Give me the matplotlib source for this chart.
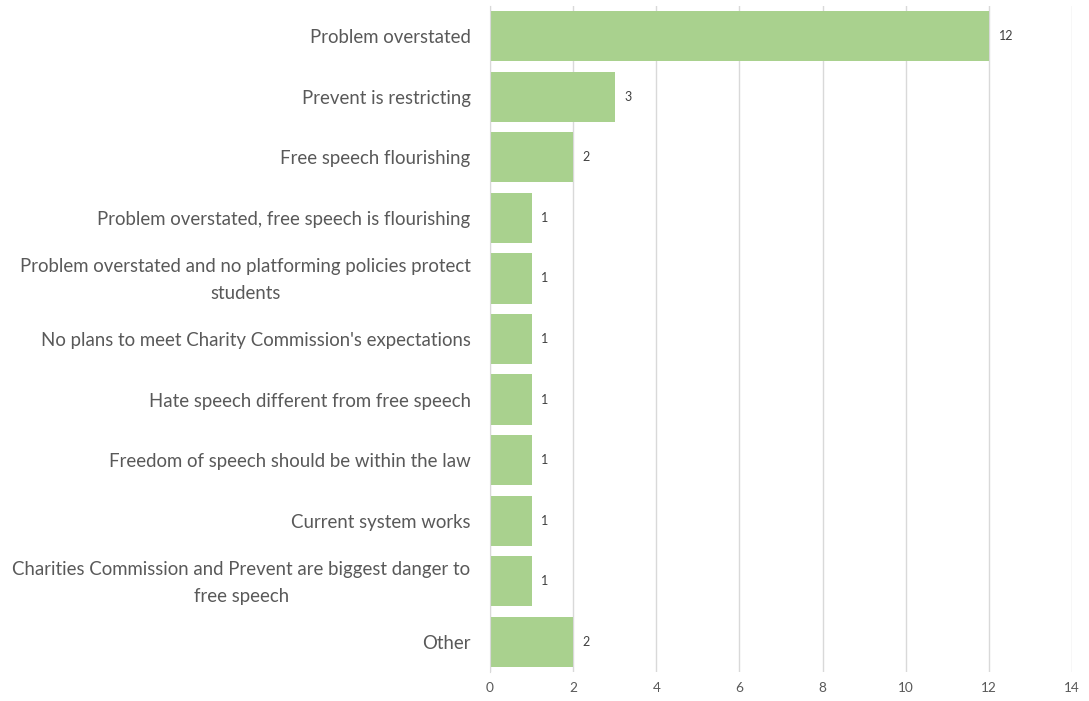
import matplotlib
matplotlib.use("Agg")
import matplotlib.pyplot as plt
import matplotlib.transforms as mtransforms

categories = [
    "Problem overstated",
    "Prevent is restricting",
    "Free speech flourishing",
    "Problem overstated, free speech is flourishing",
    "Problem overstated and no platforming policies protect\nstudents",
    "No plans to meet Charity Commission's expectations",
    "Hate speech different from free speech",
    "Freedom of speech should be within the law",
    "Current system works",
    "Charities Commission and Prevent are biggest danger to\nfree speech",
    "Other",
]
counts = [12, 3, 2, 1, 1, 1, 1, 1, 1, 1, 2]
x_ticks = [0, 2, 4, 6, 8, 10, 12, 14]

plt.rcParams['font.family'] = ['Lato', 'DejaVu Sans']

fig = plt.figure(figsize=(10.89, 7.01), dpi=100)
ax = fig.add_axes([490 / 1089, 1 - 672 / 701, (1072 - 490) / 1089, (672 - 6) / 701])

y = list(range(len(categories)))
ax.barh(y, counts, height=0.83, color="#A9D18E", zorder=3)
ax.set_ylim(len(categories) - 0.5, -0.5)
ax.set_xlim(0, 14)
ax.set_xticks(x_ticks)
ax.set_xticklabels([str(t) for t in x_ticks], fontsize=9.8, color="#595959")
ax.set_yticks(y)
ax.set_yticklabels(categories, fontsize=13.4, color="#595959",
                   multialignment="center", linespacing=1.75)
ax.tick_params(axis="both", length=0)
ax.tick_params(axis="y", pad=14)
ax.tick_params(axis="x", pad=7)

# nudge wrapped labels up so both lines sit centred on the bar
lift = mtransforms.ScaledTranslation(0, 0.05, fig.dpi_scale_trans)
for lbl in ax.get_yticklabels():
    if "\n" in lbl.get_text():
        lbl.set_transform(lbl.get_transform() + lift)

ax.grid(axis="x", color="#D9D9D9", linewidth=1, zorder=0)
for s in ["top", "right", "bottom"]:
    ax.spines[s].set_visible(False)
ax.spines["left"].set_color("#D9D9D9")
ax.spines["left"].set_zorder(4)

for yi, v in zip(y, counts):
    ax.annotate(str(v), (v, yi), xytext=(7, 0), textcoords="offset points",
                va="center", ha="left", fontsize=9, color="#404040")

fig.savefig("out.png", dpi=100)
